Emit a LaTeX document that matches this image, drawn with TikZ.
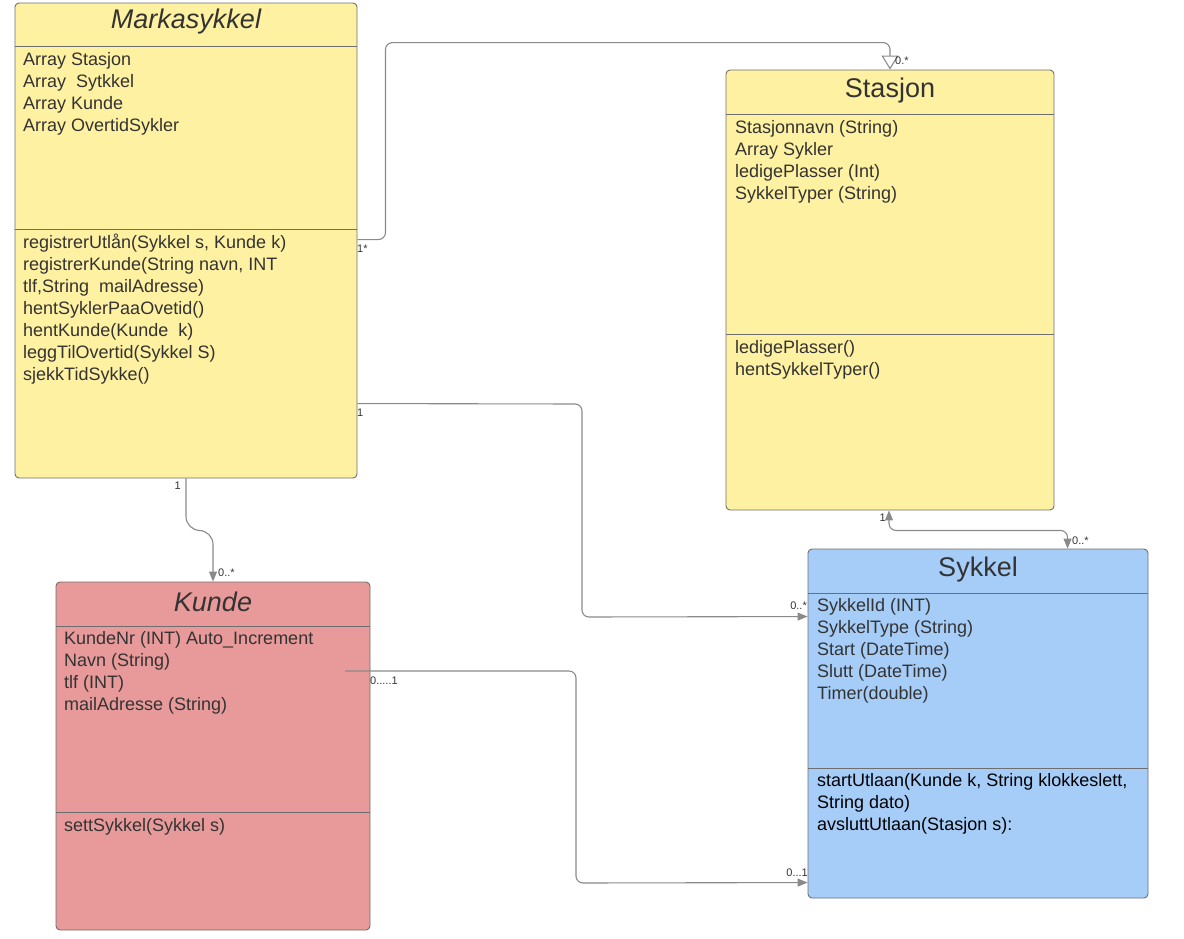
\documentclass[tikz,border=0pt]{standalone}
\usepackage{fontspec}
\setmainfont{Liberation Sans}
\usetikzlibrary{arrows.meta,calc}
\definecolor{clsyellow}{HTML}{FFF1A2}
\definecolor{clsred}{HTML}{E89A9A}
\definecolor{clsblue}{HTML}{A6CDF8}
\definecolor{edgegray}{HTML}{6E6E6E}
\definecolor{linkgray}{HTML}{8A8A8A}
\definecolor{txt}{HTML}{333333}
\tikzset{
  classbox/.style={draw=edgegray, line width=0.9pt, rounded corners=4pt, inner sep=0pt},
  sep/.style={draw=edgegray, line width=0.9pt},
  title/.style={font=\fontsize{27}{30}\selectfont, text=txt, inner sep=0pt},
  members/.style={anchor=north west, align=left, inner sep=0pt, text=txt,
    font=\fontsize{18}{22}\selectfont},
  link/.style={draw=linkgray, line width=1.1pt, rounded corners=7pt},
  tip/.style={-{Triangle[length=10pt,width=8pt]}},
  multi/.style={font=\fontsize{11}{12}\selectfont, text=txt, inner sep=0pt}
}
\begin{document}
\begin{tikzpicture}[x=1pt,y=-1pt]
\useasboundingbox (0,0) rectangle (1184,938);

% --- class boxes ---
\node[classbox, fill=clsyellow, minimum width=342pt, minimum height=475pt] (mark) at (186,240.5) {};
\node[classbox, fill=clsyellow, minimum width=328pt, minimum height=440pt] (stas) at (890,290) {};
\node[classbox, fill=clsred, minimum width=314pt, minimum height=348pt] (kunde) at (213,756) {};
\node[classbox, fill=clsblue, minimum width=340pt, minimum height=349pt] (sykkel) at (978,723.5) {};

% compartment separators
\draw[sep] (15,46) -- (357,46);
\draw[sep] (15,229) -- (357,229);
\draw[sep] (726,114) -- (1054,114);
\draw[sep] (726,334) -- (1054,334);
\draw[sep] (56,626) -- (370,626);
\draw[sep] (56,812) -- (370,812);
\draw[sep] (808,593) -- (1148,593);
\draw[sep] (808,768) -- (1148,768);

% --- titles ---
\node[title, font=\fontsize{27}{30}\selectfont\itshape] (markT) at (186,22) {Markasykkel};
\node[title] (stasT) at (890,91) {Stasjon};
\node[title, font=\fontsize{27}{30}\selectfont\itshape] (kundeT) at (213,602) {Kunde};
\node[title] (sykkelT) at (978,570) {Sykkel};

% --- members ---
\node[members] (markA) at (23,50) {\strut Array Stasjon\\Array\ \ Sytkkel\\Array Kunde\\Array OvertidSykler};
\node[members] (markM) at (23,233) {\strut registrerUtlån(Sykkel s, Kunde k)\\registrerKunde(String navn, INT\\tlf,String\ \ mailAdresse)\\hentSyklerPaaOvetid()\\hentKunde(Kunde\ \ k)\\leggTilOvertid(Sykkel S)\\sjekkTidSykke()};
\node[members] (stasA) at (735,118) {\strut Stasjonnavn (String)\\Array Sykler\\ledigePlasser (Int)\\SykkelTyper (String)};
\node[members] (stasM) at (735,338) {\strut ledigePlasser()\\hentSykkelTyper()};
\node[members] (kundeA) at (64,629) {\strut KundeNr (INT) Auto\_Increment\\Navn (String)\\tlf (INT)\\mailAdresse (String)};
\node[members] (kundeM) at (64,816) {\strut settSykkel(Sykkel s)};
\node[members] (sykkelA) at (817,596) {\strut SykkelId (INT)\\SykkelType (String)\\Start (DateTime)\\Slutt (DateTime)\\Timer(double)};
\node[members, text=black] (sykkelM) at (817,771) {\strut startUtlaan(Kunde k, String klokkeslett,\\String dato)\\avsluttUtlaan(Stasjon s):};

% --- connector end points ---
\coordinate (m1) at ([yshift=-237pt]mark.north east);
\coordinate (m2) at ([yshift=-401pt]mark.north east);
\coordinate (s2) at ([yshift=-68pt]sykkel.north west);
\coordinate (k1) at (345,671);
\coordinate (s4) at ([yshift=-334pt]sykkel.north west);
\coordinate (st5) at ([xshift=-1pt]stas.south);
\coordinate (s5) at ([xshift=260pt]sykkel.north west);

% --- associations ---
\draw[link, -{Triangle[open,length=14pt,width=17pt]}]
  (m1) -- ++(28,0) |- ([yshift=27pt]stas.north) -- (stas.north);
\draw[link, tip] (m2) -- (582,404) -- (582,617) -- (s2);
\draw[link, tip, rounded corners=14pt] (mark.south) -- ++(0,52) -| (kunde.north);
\draw[link, tip] (k1) -- (576,671) -- (576,883) -- (s4);
\draw[link, {Triangle[length=10pt,width=8pt]}-{Triangle[length=10pt,width=8pt]}]
  (st5) -- ++(0,20) -| (s5);

% --- multiplicities ---
\node[multi, anchor=west] (l1a) at (357,249) {1*};
\node[multi, anchor=west] (l1b) at (895,61) {0.*};
\node[multi, anchor=west] (l2a) at (357,413) {1};
\node[multi, anchor=east] (l2b) at (807,606) {0..*};
\node[multi, anchor=east] (l3a) at (181,486) {1};
\node[multi, anchor=west] (l3b) at (218,573) {0..*};
\node[multi, anchor=west] (l4a) at (370,681) {0.....1};
\node[multi, anchor=east] (l4b) at (808,873) {0...1};
\node[multi, anchor=east] (l5a) at (886,518) {1};
\node[multi, anchor=west] (l5b) at (1072,541) {0..*};
\end{tikzpicture}
\end{document}
